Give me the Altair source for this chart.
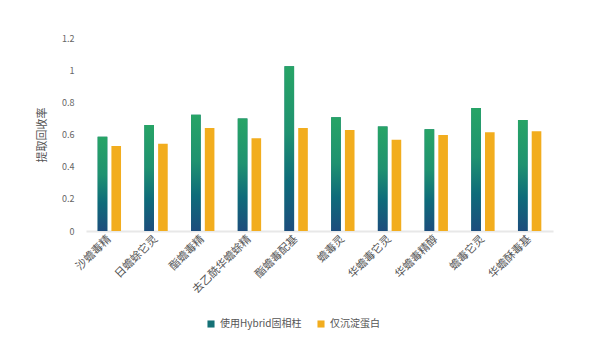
import altair as alt
import pandas as pd

categories = ["沙蟾毒精", "日蟾蜍它灵", "酯蟾毒精", "去乙酰华蟾蜍精", "酯蟾毒配基",
              "蟾毒灵", "华蟾毒它灵", "华蟾毒精醇", "蟾毒它灵", "华蟾酥毒基"]
series = ["使用Hybrid固相柱", "仅沉淀蛋白"]
hybrid = [0.586, 0.659, 0.723, 0.700, 1.024, 0.707, 0.649, 0.632, 0.765, 0.690]
precip = [0.529, 0.543, 0.640, 0.576, 0.640, 0.628, 0.568, 0.597, 0.614, 0.620]

rows = []
for c, a, b in zip(categories, hybrid, precip):
    rows.append({"cat": c, "series": series[0], "value": a})
    rows.append({"cat": c, "series": series[1], "value": b})
df = pd.DataFrame(rows)

FONT = "Noto Sans CJK SC"

x_enc = alt.X("cat:N", sort=categories, title=None,
              scale=alt.Scale(paddingInner=0.5, paddingOuter=0.25),
              axis=alt.Axis(labelAngle=-45, labelAlign="right", labelBaseline="middle",
                            labelColor="#555555", labelFontSize=11, labelFont=FONT,
                            ticks=False, domainColor="#e8e8e8", domainWidth=2,
                            labelPadding=6))
xoff = alt.XOffset("series:N", sort=series,
                   scale=alt.Scale(paddingInner=0.3, paddingOuter=0))
y_enc = alt.Y("value:Q", title="提取回收率",
              scale=alt.Scale(domain=[0, 1.2]),
              axis=alt.Axis(values=[0, 0.2, 0.4, 0.6, 0.8, 1, 1.2], format="~g",
                            grid=False, domain=False, ticks=False,
                            labelColor="#666666", labelFontSize=9, labelFont=FONT,
                            labelPadding=12, titleFont=FONT, titleFontSize=11,
                            titleFontWeight="normal", titleColor="#555555",
                            titlePadding=14))

base = alt.Chart(df).mark_bar().encode(
    x=x_enc, xOffset=xoff, y=y_enc,
    color=alt.Color("series:N", sort=series,
                    scale=alt.Scale(domain=series, range=["#147176", "#f2ad1e"]),
                    legend=alt.Legend(title=None, orient="none", direction="horizontal",
                                      legendX=120, legendY=281, symbolType="square",
                                      symbolSize=50, labelFontSize=10, labelFont=FONT,
                                      labelColor="#555555", columnPadding=14,
                                      symbolStrokeWidth=0))
)

grad = alt.Gradient(gradient="linear", x1=0, x2=0, y1=0, y2=1,
                    stops=[alt.GradientStop(color="#27a466", offset=0),
                           alt.GradientStop(color="#1f9270", offset=0.4),
                           alt.GradientStop(color="#0e6b7a", offset=0.7),
                           alt.GradientStop(color="#1d4d7d", offset=1)])

green = alt.Chart(df).transform_filter(
    alt.datum.series == series[0]
).mark_bar(fill=grad).encode(x=x_enc, xOffset=xoff, y=y_enc)

chart = alt.layer(base, green).properties(
    width=467, height=193,
    padding={"left": 28, "top": 26, "right": 10, "bottom": 10}
).configure(font=FONT).configure_view(stroke=None, strokeWidth=0)

chart.save("out.html", embed_options={"renderer": "svg", "actions": False})
